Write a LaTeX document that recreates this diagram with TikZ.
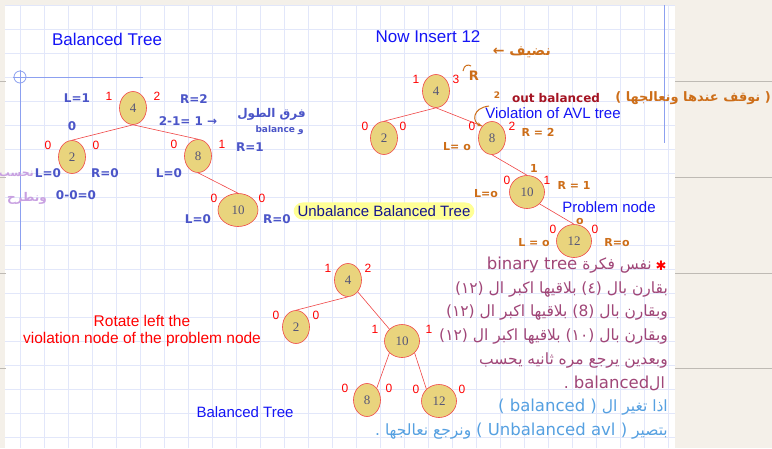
\documentclass[tikz,border=0pt]{standalone}
\usepackage{fontspec}
\setmainfont{Liberation Sans}
\newfontfamily\numfont{Liberation Serif}
\newfontfamily\handfont{DejaVu Sans}
\newfontfamily\arabicfont[Script=Arabic]{DejaVu Sans}
\TeXXeTstate=1
\usetikzlibrary{shapes.geometric,arrows.meta}
\definecolor{paper}{RGB}{244,240,233}
\definecolor{gridblue}{RGB}{226,231,250}
\definecolor{marginblue}{RGB}{140,160,240}
\definecolor{noteline}{RGB}{190,186,180}
\definecolor{nodefill}{RGB}{233,212,125}
\definecolor{nodeedge}{RGB}{240,70,70}
\definecolor{nodetext}{RGB}{85,85,120}
\definecolor{balred}{RGB}{255,0,0}
\definecolor{titleblue}{RGB}{20,20,245}
\definecolor{inkblue}{RGB}{75,85,200}
\definecolor{inkorange}{RGB}{205,110,25}
\definecolor{inkdarkred}{RGB}{165,20,35}
\definecolor{inkplum}{RGB}{160,70,120}
\definecolor{inksky}{RGB}{85,160,225}
\definecolor{inklilac}{RGB}{200,160,225}
\definecolor{hilite}{RGB}{255,255,150}
\definecolor{navy}{RGB}{20,20,140}

\tikzset{
  avl/.style={ellipse, draw=nodeedge, fill=nodefill, text=nodetext,
    font=\numfont\fontsize{13}{13}\selectfont, minimum width=27pt,
    minimum height=33pt, inner sep=0pt, line width=0.6pt},
  widenode/.style={minimum width=35pt},
  branch/.style={draw=nodeedge, line width=0.6pt},
  bf/.style={text=balred, inner sep=0pt, font=\fontsize{12}{12}\selectfont},
  heading/.style={text=titleblue, font=\fontsize{17}{17}\selectfont},
  remark/.style={font=\fontsize{15}{15}\selectfont, inner sep=1pt},
  handblue/.style={text=inkblue, inner sep=0pt, font=\handfont\bfseries\fontsize{12}{12}\selectfont},
  handorange/.style={text=inkorange, inner sep=0pt, font=\handfont\bfseries\fontsize{11}{11}\selectfont},
  arnote/.style={anchor=east, inner sep=0pt, font=\arabicfont\fontsize{15.5}{15.5}\selectfont},
}

% balance numbers on both sides of a tree node
\newcommand{\balfac}[4][22]{%
  \node[bf] (#2-l) at ([shift={(-#1,-12)}]#2) {#3};
  \node[bf] (#2-r) at ([shift={(#1,-12)}]#2) {#4};}
% latin words inside an arabic line
\newcommand{\lat}[1]{\beginL{\handfont\fontsize{16.5}{16.5}\selectfont #1}\endL{}}

\begin{document}
\begin{tikzpicture}[x=1pt,y=-1pt]
\useasboundingbox (0,0) rectangle (772,448);

% notebook page
\fill[paper] (0,0) rectangle (772,448);
\fill[white] (5,5) rectangle (675,448);
\foreach \x in {20,44,...,668}
  \draw[gridblue, line width=0.5pt] (\x,5) -- (\x,448);
\foreach \y in {5,29,...,448}
  \draw[gridblue, line width=0.5pt] (5,\y) -- (675,\y);
\foreach \y in {81,177,273,368} {
  \draw[noteline, line width=1pt] (675,\y) -- (772,\y);
  \draw[noteline, line width=1pt] (0,\y) -- (6,\y);
}
\draw[marginblue, line width=0.8pt] (20,70) -- (20,250);
\draw[marginblue, line width=0.8pt] (13,77) -- (143,77);
\draw[marginblue, line width=0.8pt] (20,77) circle (6);
\draw[marginblue, line width=0.8pt] (664,5) -- (664,143);

% first tree
\node[heading] (head1) at (107,39) {Balanced Tree};
\node[avl] (one4) at (133,108) {4};
\node[avl] (one2) at (72,157) {2};
\node[avl] (one8) at (198,156) {8};
\node[avl, minimum width=40pt] (one10) at (238,210) {10};
\draw[branch] (one4.south) -- (one2.north);
\draw[branch] (one4.south) -- (one8.north);
\draw[branch] (one8.south) -- (one10.north);
\balfac[24]{one4}{1}{2}
\balfac[24]{one2}{0}{0}
\balfac[24]{one8}{0}{1}
\balfac[24]{one10}{0}{0}

\node[handblue] (one-lh) at (77,98) {L=1};
\node[handblue] (one-rh) at (194,99) {R=2};
\node[handblue] (one-zero) at (72,126) {0};
\node[handblue] (one-diff) at (188,121) {2-1= 1 →};
\node[handblue] (one-r8) at (250,147) {R=1};
\node[handblue] (one-l2) at (48,173) {L=0};
\node[handblue] (one-r2) at (105,173) {R=0};
\node[handblue] (one-sub) at (76,195) {0-0=0};
\node[handblue] (one-l8) at (169,173) {L=0};
\node[handblue] (one-l10) at (198,219) {L=0};
\node[handblue] (one-r10) at (277,219) {R=0};
\node[arnote, text=inkblue, font=\arabicfont\bfseries\fontsize{12}{12}\selectfont] (one-ar1) at (306,114) {\beginR فرق الطول\endR};
\node[arnote, text=inkblue, font=\arabicfont\bfseries\fontsize{9}{9}\selectfont] (one-ar2) at (304,130) {\beginR و \beginL balance\endL\endR};
\node[arnote, text=inklilac, font=\arabicfont\bfseries\fontsize{11}{11}\selectfont] (one-ar3) at (34,175) {\beginR نحسب\endR};
\node[arnote, text=inklilac, font=\arabicfont\bfseries\fontsize{12}{12}\selectfont] (one-ar4) at (47,198) {\beginR ونطرح\endR};

\node[remark, text=navy, fill=hilite, rounded corners=9pt, inner xsep=4pt, inner ysep=3pt] (unbal) at (384,211) {Unbalance Balanced Tree};

% second tree, after inserting 12
\node[heading] (head2) at (428,37) {Now Insert 12};
\node[avl] (two4) at (436,91) {4};
\node[avl] (two2) at (384,138) {2};
\node[avl] (two8) at (492,138) {8};
\node[avl, widenode] (two10) at (527,192) {10};
\node[avl, widenode] (two12) at (574,241) {12};
\draw[branch] (two4.south) -- (two2.north);
\draw[branch] (two4.south) -- (two8.north west);
\draw[branch] (two8.south) -- (two10.north);
\draw[branch] (two10.south east) -- (two12.north);
\balfac[20]{two4}{1}{3}
\balfac[19]{two2}{0}{0}
\balfac[20]{two8}{0}{2}
\balfac[20]{two10}{0}{1}
\balfac[21]{two12}{0}{0}

\node[arnote, text=inkorange, font=\arabicfont\bfseries\fontsize{14}{14}\selectfont] (two-add) at (551,52) {\beginR نضيف ←\endR};
\node[handorange, font=\handfont\bfseries\fontsize{13}{13}\selectfont] (two-rr) at (474,76) {R};
\draw[inkorange, line width=1pt] (463,71) .. controls (464,65) and (468,64) .. (471,66);
\node[handorange, font=\handfont\bfseries\fontsize{9}{9}\selectfont] (two-two) at (497,95) {2};
\node[text=inkdarkred, inner sep=0pt, font=\handfont\bfseries\fontsize{12}{12}\selectfont] (two-out) at (556,98) {out balanced};
\node[arnote, text=inkorange, font=\arabicfont\bfseries\fontsize{13}{13}\selectfont] (two-stop) at (771,98) {\beginR\beginL{\handfont)}\endL{} نوقف عندها ونعالجها \beginL{\handfont(}\endL\endR};
\node[remark, text=titleblue] (two-viol) at (553,113) {Violation of AVL tree};
\coordinate (vstart) at (489,106);
\draw[inkorange, line width=1pt, -{Stealth[length=5pt]}] (vstart) .. controls (472,108) and (472,122) .. (two8.north west);
\node[handorange] (two-r8) at (538,132) {R = 2};
\node[handorange] (two-l8) at (457,147) {L= o};
\node[handorange] (two-up10) at (534,168) {1};
\node[handorange] (two-l10) at (486,194) {L=o};
\node[handorange] (two-r10) at (574,185) {R = 1};
\node[handorange] (two-up12) at (580,221) {o};
\node[handorange] (two-l12) at (534,243) {L = o};
\node[handorange] (two-r12) at (617,243) {R=o};
\node[remark, text=titleblue] (two-prob) at (609,207) {Problem node};

% notes on the insertion
\node[text=balred, inner sep=0pt, font=\handfont\bfseries\fontsize{13}{13}\selectfont] (star) at (661,266) {✱};
\node[arnote, text=inkplum] (note1) at (652,265) {\beginR نفس فكرة \lat{binary tree}\endR};
\node[arnote, text=inkplum] (note2) at (668,289) {\beginR بقارن بال \beginL(٤)\endL{} بلاقيها اكبر ال \beginL(١٢)\endL\endR};
\node[arnote, text=inkplum] (note3) at (668,312) {\beginR وبقارن بال \beginL(8)\endL{} بلاقيها اكبر ال \beginL(١٢)\endL\endR};
\node[arnote, text=inkplum] (note4) at (668,336) {\beginR وبقارن بال \beginL(١٠)\endL{} بلاقيها اكبر ال \beginL(١٢)\endL\endR};
\node[arnote, text=inkplum] (note5) at (668,360) {\beginR وبعدين يرجع مره ثانيه يحسب\endR};
\node[arnote, text=inkplum] (note6) at (665,383) {\beginR ال\lat{balanced} .\endR};
\node[arnote, text=inksky] (note7) at (668,407) {\beginR اذا تغير ال \lat{( balanced )}\endR};
\node[arnote, text=inksky] (note8) at (668,431) {\beginR بتصير \lat{( Unbalanced avl )} ونرجع نعالجها .\endR};

% third tree, after the rotation
\node[avl] (three4) at (348,280) {4};
\node[avl] (three2) at (296,327) {2};
\node[avl, widenode] (three10) at (402,341) {10};
\node[avl] (three8) at (367,400) {8};
\node[avl, widenode] (three12) at (439,401) {12};
\draw[branch] (three4.south) -- (three2.north);
\draw[branch] (three4.south east) -- (three10.north west);
\draw[branch] (three10.south west) -- (three8.north east);
\draw[branch] (three10.south east) -- (three12.north west);
\balfac[20]{three4}{1}{2}
\balfac[20]{three2}{0}{0}
\balfac[27]{three10}{1}{1}
\balfac[22]{three8}{0}{0}
\balfac[23]{three12}{0}{0}

\node[remark, text=balred, align=center, font=\fontsize{15.5}{17}\selectfont] (rotate) at (142,331) {Rotate left the\\violation node of the problem node};
\node[remark, text=titleblue] (head3) at (245,412) {Balanced Tree};
\end{tikzpicture}
\end{document}
